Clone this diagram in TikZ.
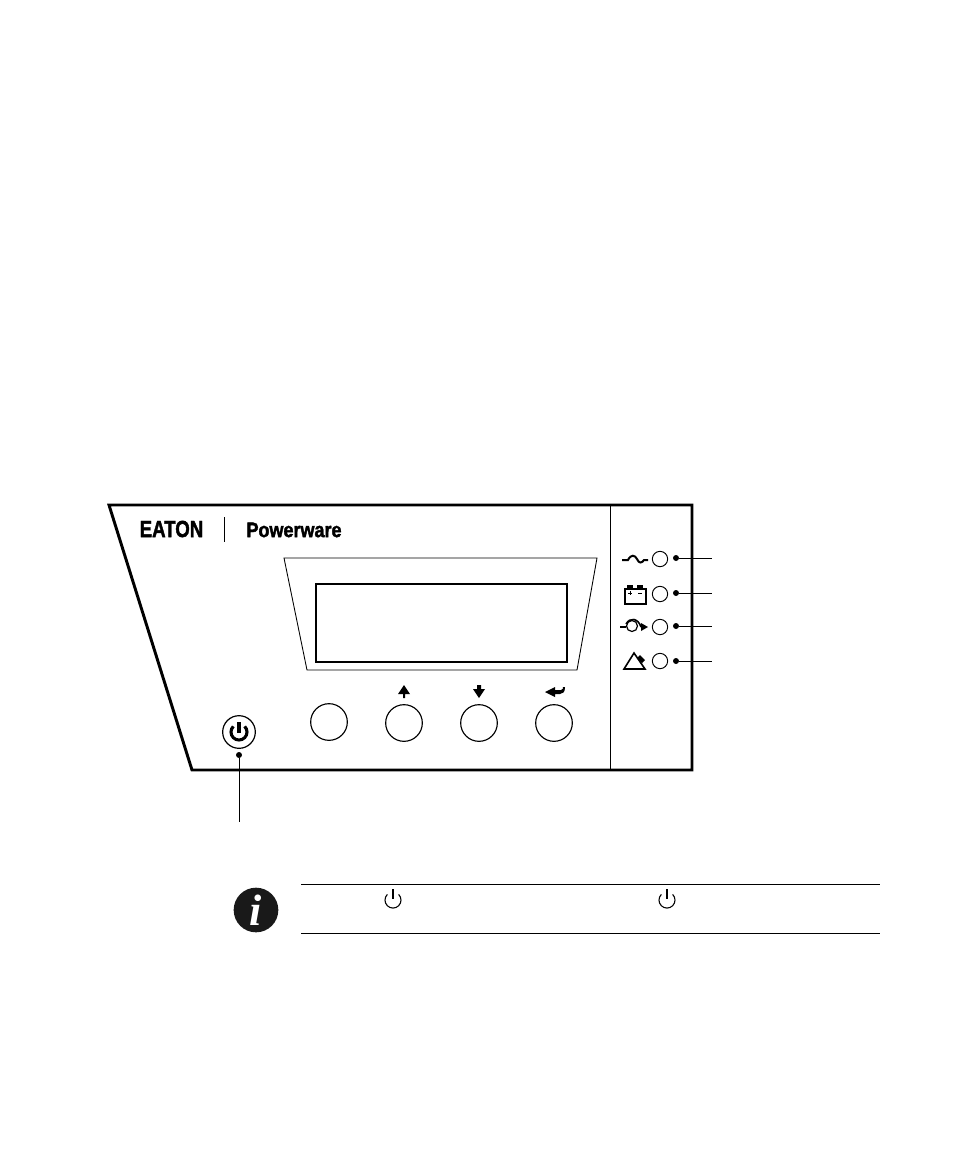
\documentclass[tikz,border=0pt]{standalone}
\usepackage{fontspec}
\setmainfont{Liberation Sans}
\newfontfamily\serifbold{Liberation Serif}
\newfontfamily\logofont[BoldFeatures={FakeBold=2}]{Liberation Sans}
\usetikzlibrary{calc}
\tikzset{
    panelline/.style={line width=2.2pt, line join=miter},
    thinline/.style={line width=0.65pt},
    keycircle/.style={circle, draw, line width=0.85pt, minimum size=27.5pt, inner sep=0pt},
    ledcircle/.style={circle, draw, line width=0.7pt, minimum size=11.5pt, inner sep=0pt},
    leaddot/.style={circle, fill, minimum size=4.5pt, inner sep=0pt},
    iconline/.style={line width=1.2pt},
}
\begin{document}
\begin{tikzpicture}[x=0.75pt, y=-0.75pt]
    \useasboundingbox[fill=white] (0, 0) rectangle (954, 1158);

    % Front panel
    \draw[panelline] (109, 505) -- (692, 505) -- (692, 770) -- (192, 770) -- cycle;
    \draw[thinline] (610, 505) -- (610, 770);

    % Logo
    \node[font=\logofont\bfseries\fontsize{17.5}{17.5}\selectfont, xscale=0.8, inner sep=0pt] (logo) at (171.5, 529) {EATON};
    \draw[thinline] (224, 517) -- (224, 542);
    \node[font=\logofont\bfseries\fontsize{15.7}{15.7}\selectfont, xscale=0.86, inner sep=0pt] (brand) at (294, 530) {Powerware};

    % Display
    \draw[thinline] (284, 558) -- (597, 558) -- (577, 670) -- (307, 670) -- cycle;
    \draw[line width=1.5pt] (316, 584) rectangle (567, 662);

    % Keys
    \foreach \name/\x/\y in {keya/329/722, keyb/404/723, keyc/479/723, keyd/554/723} {
        \node[keycircle] (\name) at (\x, \y) {};
    }

    % Key arrows
    \fill (404, 685) -- (410, 694) -- (405, 694) -- (405, 698) -- (403, 698) -- (403, 694) -- (398, 694) -- cycle;
    \fill (479, 698) -- (473, 689) -- (477, 689) -- (477, 685) -- (481, 685) -- (481, 689) -- (485, 689) -- cycle;
    \fill (545, 692) -- (555, 687) -- (555, 690) -- (561, 690) .. controls (563, 690) and (563, 688) .. (563, 687) -- (565, 687) .. controls (565, 692) and (563, 694) .. (560, 694) -- (555, 694) -- (555, 697) -- cycle;

    % Power key
    \node[circle, draw, line width=0.9pt, minimum size=24.5pt, inner sep=0pt] (power) at (239, 732) {};
    \draw[line width=2.3pt] ($(power)+(-5.66,-5.66)$) arc[start angle=225, delta angle=-270, radius=8];
    \draw[line width=2.3pt] (239, 722) -- (239, 733);
    \node[leaddot] (powerdot) at (239, 755) {};
    \coordinate (powerend) at (239, 822);
    \draw[thinline] (powerdot) -- (powerend);

    % Status lamps
    \foreach \name/\y/\ly in {lampa/559/558, lampb/594/593, lampc/627/626, lampd/661/661} {
        \node[ledcircle] (\name) at (660, \y) {};
        \node[leaddot] (\name dot) at (676, \ly) {};
        \coordinate (\name end) at (712, \ly);
        \draw[thinline] (\name dot) -- (\name end);
    }

    % Lamp icons
    \draw[line width=1.5pt] (622, 560) -- (628, 560) .. controls (631, 554) and (635, 555) .. (637, 559) .. controls (639, 564) and (642, 563) .. (644, 560) -- (648, 560);
    \draw[line width=1.5pt] (624.5, 589) rectangle (645.5, 603.5);
    \fill (627, 585) rectangle (633, 589);
    \fill (637, 585) rectangle (643, 589);
    \draw[line width=0.6pt] (628, 593) -- (632, 593) (630, 591) -- (630, 595) (638, 593) -- (642, 593);
    \draw[line width=1.5pt] (620, 627) -- (626, 627);
    \draw[line width=0.9pt] (632, 626) circle (5.5);
    \draw[iconline] (626, 624) .. controls (630, 617) and (638, 618) .. (641, 627);
    \fill (648, 627) -- (641, 623) -- (641, 631) -- cycle;
    \draw[iconline] (624, 669) -- (634, 653) -- (645, 669) -- cycle;
    \fill (640, 655) -- (645, 660) -- (642, 663) -- (637, 658) -- cycle;

    % Note
    \coordinate (rulestart) at (301, 884);
    \coordinate (ruleend) at (880, 884);
    \draw[thinline] (rulestart) -- (ruleend);
    \draw[thinline] (301, 933) -- (880, 933);
    \node[circle, fill=black!90, minimum size=33.5pt, inner sep=0pt, text=white, font=\serifbold\bfseries\itshape\fontsize{33}{33}\selectfont] (infoicon) at (256, 910) {\textit{i}};
    \foreach \x in {393, 667} {
        \draw[line width=0.8pt] (\x-5.66, 894.4) arc[start angle=225, delta angle=-270, radius=8];
        \draw[line width=1.2pt] (\x, 889) -- (\x, 899);
    }
\end{tikzpicture}
\end{document}
